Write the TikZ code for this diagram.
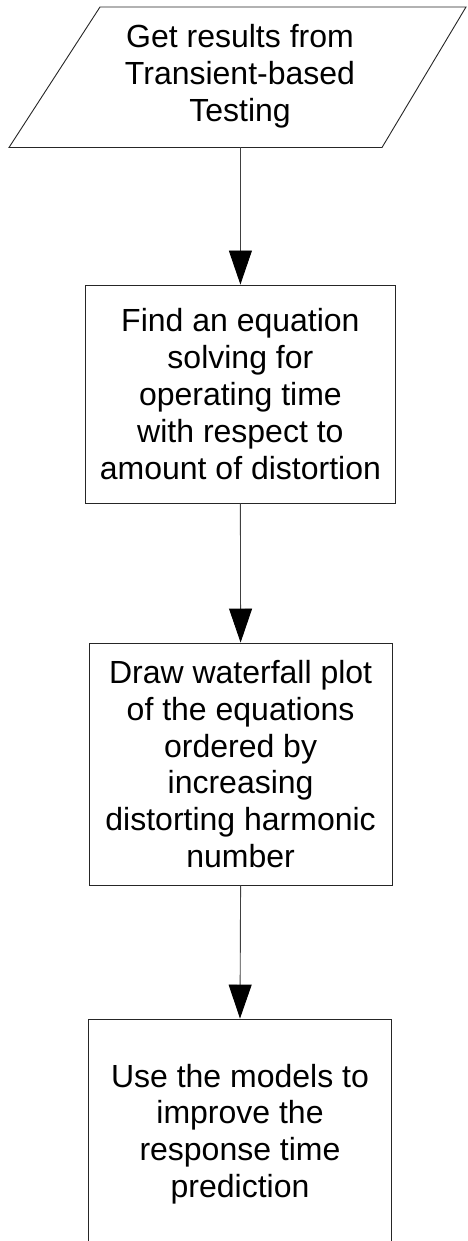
\documentclass[tikz,border=0pt]{standalone}
\usepackage{fontspec}
\setmainfont{Liberation Sans}
\usetikzlibrary{arrows.meta}
\begin{document}
\begin{tikzpicture}[x=1pt,y=-1pt,
  every node/.style={font=\fontsize{32}{36.8}\selectfont, align=center, inner sep=0pt},
  stepbox/.style={draw=black!85, line width=0.9pt, rectangle},
  shapeline/.style={draw=black!85, line width=0.9pt},
  arr/.style={draw=black!75, line width=0.9pt, -{Triangle[width=23pt,length=34pt,fill=black,color=black]}}
]
\clip (0,0) rectangle (467,1241);
\fill[white] (0,0) rectangle (467,1241);
% input parallelogram
\draw[shapeline] (100,7) -- (466,7) -- (382,147.5) -- (9,147.5) -- cycle;
\node (in) at (240,76) {Get results from\\Transient-based\\Testing};
\coordinate (inb) at (240.4,147.5);
% boxes
\node[stepbox, minimum width=310pt, minimum height=218pt] (b1) at (240.4,394)
  {Find an equation\\solving for\\operating time\\with respect to\\amount of distortion};
\node[stepbox, minimum width=303pt, minimum height=242pt] (b2) at (240.6,764)
  {Draw waterfall plot\\of the equations\\ordered by\\increasing\\distorting harmonic\\number};
\node[stepbox, minimum width=303.5pt, minimum height=230pt] (b3) at (240,1134)
  {Use the models to\\improve the\\response time\\prediction};
% connectors
\draw[arr] (inb) -- (b1.north);
\draw[arr] (b1.south) -- (b2.north);
\draw[arr] (b2.south) -- (b3.north);
\end{tikzpicture}
\end{document}
